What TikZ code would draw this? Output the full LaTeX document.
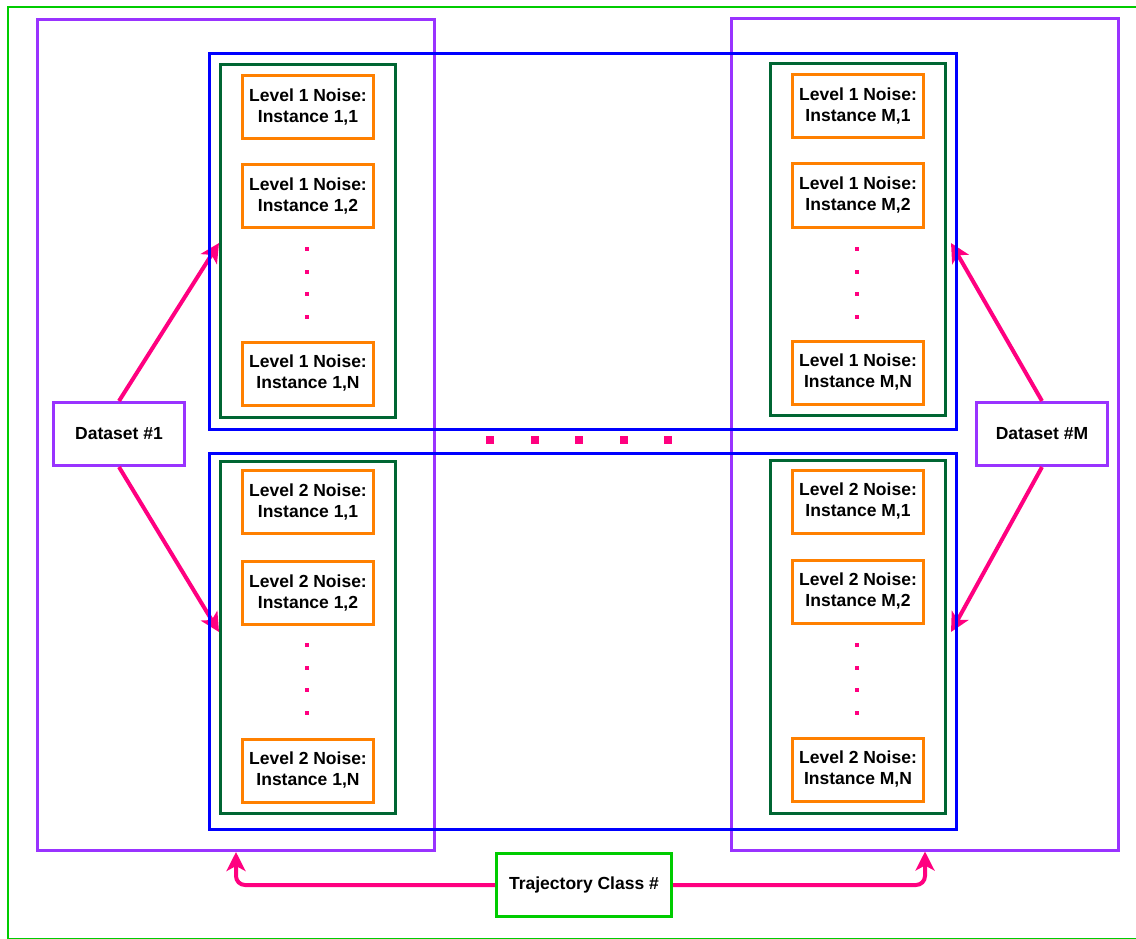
\documentclass[tikz,border=0pt]{standalone}
\usepackage{fontspec}
\setmainfont{Liberation Sans}
\usetikzlibrary{arrows.meta}
\definecolor{classgreen}{RGB}{0,204,0}
\definecolor{setpurple}{RGB}{153,51,255}
\definecolor{levelblue}{RGB}{0,0,255}
\definecolor{groupgreen}{RGB}{0,102,51}
\definecolor{noiseorange}{RGB}{255,128,0}
\definecolor{linkpink}{RGB}{255,0,128}
\newcommand\noise[4]{%
\node[noisebox] (#1) at (#2,#3) {#4};
}
\newcommand\skipdots[2]{%
\foreach \dy in {0,22.7,45.4,68} \fill[linkpink] (#1-2,#2+\dy-2) rectangle ++(4,4);
}

\begin{document}
\begin{tikzpicture}[x=1pt,y=-1pt,
  every node/.style={font=\bfseries\fontsize{17.5}{21}\selectfont, align=center, inner sep=0pt},
  noisebox/.style={draw=noiseorange, line width=3pt, minimum width=131, minimum height=63},
  groupbox/.style={draw=groupgreen, line width=3pt, minimum width=175},
  levelbox/.style={draw=levelblue, line width=3pt, minimum width=747, minimum height=376},
  setbox/.style={draw=setpurple, line width=3pt, minimum height=831},
  databox/.style={draw=setpurple, fill=white, line width=3pt, minimum width=131, minimum height=63},
  link/.style={draw=linkpink, line width=4pt, -{Stealth[length=19pt,width=19pt,inset=5pt]}}]
	%% page and outer frame
	\useasboundingbox (0,0) rectangle (1136,939);
	\clip (0,0) rectangle (1136,939);
	\draw[classgreen, line width=2pt] (8,7) rectangle (1160,938.5);

	% one box per dataset
	\node[setbox, minimum width=397] (set1) at (236,435) {};
	\node[setbox, minimum width=387] (setM) at (925,434.5) {};

	\node[databox] (ds1) at (119,434) {Dataset \#1};
	\node[databox] (dsM) at (1042,434) {Dataset \#M};
	\node[draw=classgreen, line width=3pt, minimum width=175, minimum height=63] (traj) at (584,885) {Trajectory Class \#};

	% links go under the level boxes
	\coordinate (in11) at (219,243);
	\coordinate (in12) at (219,632);
	\coordinate (inM1) at (951,243);
	\coordinate (inM2) at (951,632);

	\draw[link] (ds1.north) -- (in11);
	\draw[link] (ds1.south) -- (in12);
	\draw[link] (dsM.north) -- (inM1);
	\draw[link] (dsM.south) -- (inM2);
	\draw[link, rounded corners=9pt] (traj.west) -| (set1.south);
	\draw[link, rounded corners=9pt] (traj.east) -| (setM.south);

	% one box per noise level
	\node[levelbox] (lvl1) at (583,241.5) {};
	\node[levelbox] (lvl2) at (583,641.5) {};

	% instances grouped per dataset and level
	\node[groupbox, minimum height=353] (g11) at (308,241) {};
	\node[groupbox, minimum height=352] (g12) at (308,637.5) {};
	\node[groupbox, minimum height=352] (gM1) at (858,239.5) {};
	\node[groupbox, minimum height=353] (gM2) at (858,637) {};

	\noise{a11}{308}{107}{Level 1 Noise:\\Instance 1,1}
	\noise{a12}{308}{196}{Level 1 Noise:\\Instance 1,2}
	\noise{a1N}{308}{373.5}{Level 1 Noise:\\Instance 1,N}
	\noise{b11}{308}{502}{Level 2 Noise:\\Instance 1,1}
	\noise{b12}{308}{593}{Level 2 Noise:\\Instance 1,2}
	\noise{b1N}{308}{770.5}{Level 2 Noise:\\Instance 1,N}

	\noise{aM1}{858}{106.5}{Level 1 Noise:\\Instance M,1}
	\noise{aM2}{858}{195.5}{Level 1 Noise:\\Instance M,2}
	\noise{aMN}{858}{372.5}{Level 1 Noise:\\Instance M,N}
	\noise{bM1}{858}{501.5}{Level 2 Noise:\\Instance M,1}
	\noise{bM2}{858}{591.5}{Level 2 Noise:\\Instance M,2}
	\noise{bMN}{858}{769.5}{Level 2 Noise:\\Instance M,N}

	% skipped instances
	\skipdots{307}{249}
	\skipdots{307}{645}
	\skipdots{857}{249}
	\skipdots{857}{645}

	% skipped datasets
	\foreach \x in {490,534.5,579,623.5,668}
		\fill[linkpink] (\x-4,436) rectangle ++(8,8);
\end{tikzpicture}
\end{document}
